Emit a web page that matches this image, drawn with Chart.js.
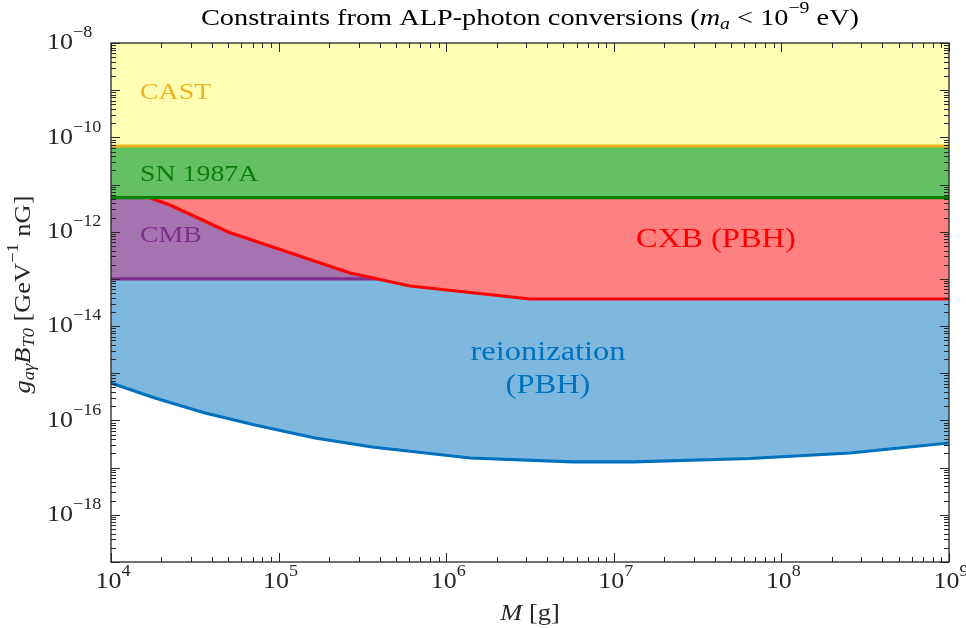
<!DOCTYPE html>
<html>
<head>
<meta charset="utf-8">
<script src="https://cdn.jsdelivr.net/npm/chart.js@4.4.1/dist/chart.umd.min.js"></script>
<style>
  html, body { margin: 0; padding: 0; background: #ffffff; }
  #wrap { width: 966px; height: 628px; }
</style>
</head>
<body>
<div id="wrap"><canvas id="c" width="966" height="628"></canvas></div>
<script>
// Axis ranges (mass in grams, coupling × field in GeV^-1 nG)
const massRange = [1e4, 1e9];
const couplingRange = [1e-19, 1e-8];

// Tick label exponents
const massTickExps = [4, 5, 6, 7, 8, 9];
const couplingTickExps = [-8, -10, -12, -14, -16, -18];

// CAST helioscope bound
const castMass = [1e4, 1e9];
const castLimit = [6.56e-11, 6.56e-11];

// SN 1987A gamma-ray bound
const snMass = [1e4, 1e9];
const snLimit = [5.26e-12, 5.26e-12];

// CMB spectral distortion bound
const cmbMass = [1e4, 1e9];
const cmbLimit = [1.0e-13, 1.0e-13];

// Cosmic X-ray background from PBH evaporation
const cxbMass = [1e4, 1.71e4, 2.3e4, 5.0e4, 2.67e5, 6.08e5, 3.16e6, 1e9];
const cxbLimit = [1.0e-11, 5.26e-12, 3.56e-12, 9.9e-13, 1.33e-13, 7.08e-14, 3.75e-14, 3.75e-14];

// Reionization from PBH evaporation
const reionMass = [1e4, 1.83e4, 3.64e4, 7.23e4, 1.65e5, 3.61e5, 1.39e6, 5.71e6, 1.30e7, 6.5e7, 2.56e8, 1e9];
const reionLimit = [6.22e-16, 2.99e-16, 1.44e-16, 8.0e-17, 4.25e-17, 2.74e-17, 1.60e-17, 1.32e-17, 1.32e-17, 1.56e-17, 2.04e-17, 3.33e-17];

// Region names and where they sit (mass, coupling)
const regionNames = [
  { lines: ['CAST'], m: 1.49e4, g: 8.7e-10, color: '#EDB120', size: 24, align: 'left' },
  { lines: ['SN 1987A'], m: 1.49e4, g: 1.58e-11, color: '#0B7D0B', size: 24, align: 'left' },
  { lines: ['CMB'], m: 1.49e4, g: 8.1e-13, color: '#7E2F8E', size: 24, align: 'left' },
  { lines: ['CXB (PBH)'], m: 4.07e7, g: 6.8e-13, color: '#FF0000', size: 28, align: 'center' },
  { lines: ['reionization', '(PBH)'], m: 4.05e6, g: 2.7e-15, color: '#0072BD', size: 28, align: 'center', gap: 33 }
];

const FONT = '"Liberation Serif", "Times New Roman", serif';
const AXIS_COLOR = '#262626';
const WIDE = 1.16; // horizontal stretch for the serif text

const toPoints = (xs, ys) => xs.map((x, i) => ({ x, y: ys[i] }));

// Draw a run of text pieces with optional italics, subscripts and superscripts
function runFont(r, size) {
  const s = (r.sub || r.sup) ? size * 0.7 : size;
  return (r.it ? 'italic ' : '') + s + 'px ' + FONT;
}
function richWidth(ctx, runs, size) {
  let w = 0;
  for (const r of runs) {
    ctx.font = runFont(r, size);
    w += ctx.measureText(r.t).width;
  }
  return w;
}
function drawRich(ctx, runs, x, y, size, color, align, stretch) {
  const sx = stretch || WIDE;
  const w = richWidth(ctx, runs, size) * sx;
  const x0 = align === 'center' ? x - w / 2 : (align === 'right' ? x - w : x);
  ctx.save();
  ctx.translate(x0, y);
  ctx.scale(sx, 1);
  ctx.fillStyle = color;
  ctx.textBaseline = 'middle';
  ctx.textAlign = 'left';
  let cx = 0;
  for (const r of runs) {
    const dy = r.sup ? -size * 0.42 : (r.sub ? size * 0.22 : 0);
    ctx.font = runFont(r, size);
    ctx.fillText(r.t, cx, dy);
    cx += ctx.measureText(r.t).width;
  }
  ctx.restore();
}
const pow10 = e => [{ t: '10' }, { t: String(e).replace('-', '\u2212'), sup: true }];

// Frame, inward ticks, labels and region names
const decorations = {
  id: 'decorations',
  afterDatasetsDraw(chart) {
    const { ctx, chartArea: a, scales } = chart;
    const xs = scales.x, ys = scales.y;
    ctx.save();

    // Region names
    for (const r of regionNames) {
      const px = xs.getPixelForValue(r.m);
      const py = ys.getPixelForValue(r.g);
      r.lines.forEach((ln, i) => {
        drawRich(ctx, [{ t: ln }], px, py + i * (r.gap || 0), r.size, r.color, r.align);
      });
    }

    // Ticks
    ctx.strokeStyle = AXIS_COLOR;
    ctx.lineWidth = 1;
    const major = 9, minor = 5;
    ctx.beginPath();
    for (let e = 4; e <= 9; e++) {
      for (let k = 1; k <= 9; k++) {
        const v = k * Math.pow(10, e);
        if (v > massRange[1] * 1.0001) break;
        const px = Math.round(xs.getPixelForValue(v)) + 0.5;
        const len = k === 1 ? major : minor;
        ctx.moveTo(px, a.bottom); ctx.lineTo(px, a.bottom - len);
        ctx.moveTo(px, a.top); ctx.lineTo(px, a.top + len);
      }
    }
    for (let e = -19; e <= -8; e++) {
      for (let k = 1; k <= 9; k++) {
        const v = k * Math.pow(10, e);
        if (v > couplingRange[1] * 1.0001) break;
        const py = Math.round(ys.getPixelForValue(v)) + 0.5;
        const len = k === 1 ? major : minor;
        ctx.moveTo(a.left, py); ctx.lineTo(a.left + len, py);
        ctx.moveTo(a.right, py); ctx.lineTo(a.right - len, py);
      }
    }
    ctx.stroke();

    // Frame
    ctx.lineWidth = 1.3;
    ctx.strokeRect(a.left, a.top, a.right - a.left, a.bottom - a.top);

    // Tick labels
    for (const e of massTickExps) {
      const px = xs.getPixelForValue(Math.pow(10, e));
      drawRich(ctx, pow10(e), px + 2, a.bottom + 20, 24, AXIS_COLOR, 'center', 1.08);
    }
    for (const e of couplingTickExps) {
      const py = ys.getPixelForValue(Math.pow(10, e));
      drawRich(ctx, pow10(e), a.left - 64, py, 24, AXIS_COLOR, 'left', 1.08);
    }

    // Axis titles
    drawRich(ctx, [{ t: 'M', it: true }, { t: ' [g]' }], (a.left + a.right) / 2, a.bottom + 52, 24, AXIS_COLOR, 'center', 1.1);
    ctx.save();
    ctx.translate(24, (a.top + a.bottom) / 2 - 8);
    ctx.rotate(-Math.PI / 2);
    drawRich(ctx, [
      { t: 'g', it: true }, { t: 'a\u03B3', it: true, sub: true },
      { t: 'B', it: true }, { t: 'T0', it: true, sub: true },
      { t: ' [GeV' }, { t: '\u22121', sup: true }, { t: ' nG]' }
    ], 0, 0, 24, AXIS_COLOR, 'center', 1.1);
    ctx.restore();

    // Title
    drawRich(ctx, [
      { t: 'Constraints from ALP-photon conversions (' },
      { t: 'm', it: true }, { t: 'a', it: true, sub: true },
      { t: ' < 10' }, { t: '\u22129', sup: true }, { t: ' eV)' }
    ], (a.left + a.right) / 2, 19, 24, '#000000', 'center', 1.18);

    ctx.restore();
  }
};

const band = (label, xs, ys, line, fillColor, order) => ({
  label, data: toPoints(xs, ys), borderColor: line, backgroundColor: fillColor,
  borderWidth: 3.2, pointRadius: 0, tension: 0, fill: 'end', order, clip: 0
});

new Chart(document.getElementById('c'), {
  type: 'line',
  data: {
    datasets: [
      band('CAST', castMass, castLimit, '#EDB120', '#FFFFB3', 1),
      band('SN 1987A', snMass, snLimit, '#007F00', '#63C163', 2),
      band('CXB (PBH)', cxbMass, cxbLimit, '#FF0000', '#FF8080', 3),
      band('CMB', cmbMass, cmbLimit, '#7E2F8E', '#A673B1', 4),
      band('reionization (PBH)', reionMass, reionLimit, '#0072BD', '#7EB8DE', 5)
    ]
  },
  options: {
    responsive: false,
    animation: false,
    devicePixelRatio: 1,
    layout: { padding: { left: 111, right: 17, top: 43, bottom: 66 } },
    plugins: {
      legend: { display: false },
      tooltip: { enabled: false },
      title: { display: false },
      filler: { drawTime: 'beforeDatasetDraw' }
    },
    scales: {
      x: { type: 'logarithmic', min: massRange[0], max: massRange[1], display: false },
      y: { type: 'logarithmic', min: couplingRange[0], max: couplingRange[1], display: false }
    }
  },
  plugins: [decorations]
});
</script>
</body>
</html>
